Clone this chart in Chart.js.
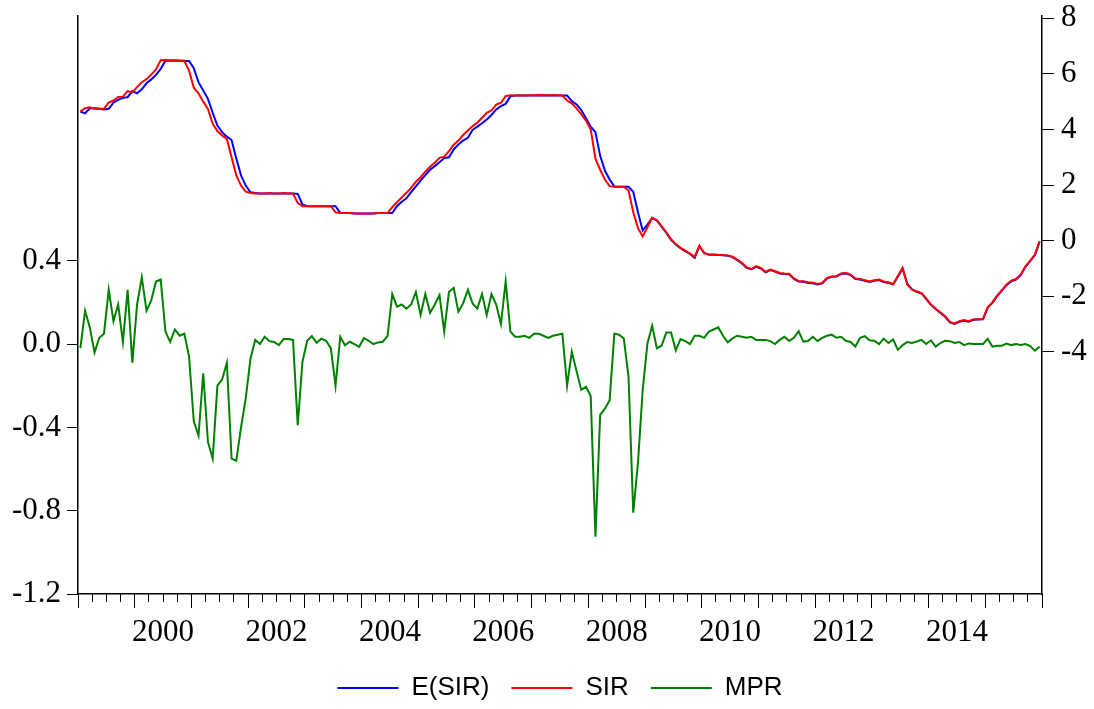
<!DOCTYPE html>
<html>
<head>
<meta charset="utf-8">
<script src="https://cdn.jsdelivr.net/npm/chart.js@4.4.1/dist/chart.umd.min.js"></script>
<style>
  html, body { margin: 0; padding: 0; background: #fff; }
  #chart { display: block; }
</style>
</head>
<body>
<canvas id="chart" width="1094" height="709"></canvas>
<script>
// monthly observations, 1999M01 .. 2015M12
const months = [];
for (let y = 1999; y <= 2015; y++) {
    for (let m = 1; m <= 12; m++) months.push(y + 'M' + String(m).padStart(2, '0'));
}

// expected short interest rate (right axis)
const esir = [
    4.64, 4.58, 4.76, 4.76, 4.74, 4.72, 4.74, 4.96, 5.06, 5.14, 5.16, 5.38,
    5.30, 5.44, 5.66, 5.80, 5.96, 6.18, 6.47, 6.47, 6.47, 6.47, 6.46, 6.46,
    6.20, 5.70, 5.40, 5.10, 4.60, 4.14, 3.90, 3.74, 3.62, 2.95, 2.35, 1.98,
    1.74, 1.71, 1.70, 1.70, 1.70, 1.70, 1.70, 1.70, 1.70, 1.70, 1.68, 1.30,
    1.24, 1.24, 1.24, 1.24, 1.24, 1.24, 1.24, 1.00, 0.99, 0.99, 0.98, 0.98,
    0.98, 0.98, 0.98, 0.99, 0.99, 0.99, 0.99, 1.24, 1.40, 1.52, 1.75, 1.95,
    2.16, 2.36, 2.55, 2.68, 2.82, 2.97, 3.00, 3.28, 3.46, 3.60, 3.70, 3.98,
    4.10, 4.22, 4.36, 4.52, 4.72, 4.84, 4.92, 5.19, 5.22, 5.22, 5.22, 5.22,
    5.22, 5.22, 5.22, 5.22, 5.22, 5.22, 5.22, 5.22, 5.02, 4.90, 4.70, 4.40,
    4.10, 3.90, 3.05, 2.52, 2.20, 1.95, 1.94, 1.94, 1.94, 1.76, 1.02, 0.36,
    0.58, 0.82, 0.72, 0.50, 0.28, 0.03, -0.14, -0.27, -0.38, -0.48, -0.62, -0.20,
    -0.44, -0.51, -0.51, -0.52, -0.53, -0.54, -0.59, -0.70, -0.82, -0.98, -1.03, -0.94,
    -1.00, -1.14, -1.06, -1.11, -1.18, -1.20, -1.21, -1.38, -1.47, -1.48, -1.52, -1.53,
    -1.58, -1.54, -1.36, -1.30, -1.29, -1.20, -1.18, -1.24, -1.38, -1.40, -1.44, -1.49,
    -1.44, -1.42, -1.49, -1.52, -1.58, -1.30, -1.00, -1.56, -1.75, -1.84, -1.90, -2.10,
    -2.31, -2.46, -2.60, -2.74, -2.94, -3.00, -2.92, -2.88, -2.92, -2.85, -2.84, -2.83,
    -2.42, -2.24, -2.00, -1.80, -1.60, -1.46, -1.40, -1.24, -0.94, -0.74, -0.52, -0.04
];

// short interest rate (right axis)
const sir = [
    4.64, 4.76, 4.80, 4.74, 4.74, 4.74, 4.97, 5.04, 5.17, 5.18, 5.38, 5.33,
    5.52, 5.70, 5.81, 5.97, 6.16, 6.49, 6.50, 6.49, 6.49, 6.48, 6.47, 6.12,
    5.50, 5.30, 5.00, 4.74, 4.20, 3.94, 3.78, 3.66, 3.00, 2.35, 1.98, 1.76,
    1.71, 1.70, 1.70, 1.70, 1.71, 1.70, 1.70, 1.71, 1.70, 1.70, 1.35, 1.24,
    1.24, 1.24, 1.25, 1.24, 1.24, 1.24, 1.02, 0.99, 0.99, 0.99, 0.98, 0.98,
    0.97, 0.98, 0.98, 0.99, 0.99, 0.99, 1.20, 1.38, 1.55, 1.72, 1.90, 2.12,
    2.28, 2.48, 2.66, 2.80, 2.98, 3.02, 3.22, 3.45, 3.60, 3.80, 3.96, 4.12,
    4.24, 4.42, 4.60, 4.68, 4.89, 4.96, 5.20, 5.23, 5.22, 5.23, 5.22, 5.23,
    5.23, 5.24, 5.23, 5.23, 5.24, 5.23, 5.22, 5.04, 4.94, 4.76, 4.55, 4.32,
    4.00, 2.95, 2.55, 2.20, 1.96, 1.94, 1.94, 1.94, 1.80, 1.02, 0.45, 0.15,
    0.48, 0.82, 0.74, 0.52, 0.30, 0.05, -0.12, -0.26, -0.36, -0.47, -0.58, -0.18,
    -0.45, -0.50, -0.50, -0.51, -0.52, -0.53, -0.58, -0.68, -0.80, -0.96, -1.02, -0.92,
    -0.98, -1.12, -1.04, -1.10, -1.16, -1.18, -1.19, -1.36, -1.45, -1.46, -1.50, -1.51,
    -1.56, -1.52, -1.34, -1.29, -1.28, -1.18, -1.16, -1.22, -1.36, -1.38, -1.42, -1.47,
    -1.42, -1.40, -1.47, -1.50, -1.56, -1.27, -0.98, -1.58, -1.76, -1.83, -1.89, -2.08,
    -2.30, -2.45, -2.58, -2.72, -2.92, -2.98, -2.90, -2.86, -2.90, -2.83, -2.83, -2.82,
    -2.40, -2.22, -1.98, -1.78, -1.58, -1.44, -1.38, -1.22, -0.92, -0.72, -0.50, -0.02
];

// MPR (left axis)
const mpr = [
    -0.02, 0.16, 0.08, -0.04, 0.03, 0.05, 0.26, 0.11, 0.19, 0.01, 0.26, -0.09,
    0.19, 0.32, 0.16, 0.21, 0.30, 0.31, 0.06, 0.01, 0.07, 0.04, 0.05, -0.06,
    -0.37, -0.44, -0.14, -0.47, -0.55, -0.20, -0.17, -0.09, -0.55, -0.56, -0.40, -0.26,
    -0.07, 0.02, 0.00, 0.035, 0.014, 0.01, -0.005, 0.024, 0.024, 0.02, -0.39, -0.085,
    0.016, 0.038, 0.006, 0.026, 0.016, -0.02, -0.20, 0.035, -0.006, 0.011, 0.00, -0.013,
    0.029, 0.016, 0.00, 0.008, 0.011, 0.038, 0.24, 0.18, 0.19, 0.17, 0.19, 0.25,
    0.14, 0.24, 0.15, 0.19, 0.235, 0.06, 0.25, 0.27, 0.155, 0.195, 0.26, 0.195,
    0.17, 0.24, 0.14, 0.24, 0.19, 0.096, 0.30, 0.06, 0.035, 0.035, 0.04, 0.03,
    0.05, 0.05, 0.04, 0.03, 0.04, 0.045, 0.05, -0.20, -0.037, -0.13, -0.22, -0.205,
    -0.25, -0.925, -0.34, -0.31, -0.27, 0.05, 0.045, 0.027, -0.157, -0.81, -0.57, -0.22,
    0.003, 0.088, -0.02, -0.008, 0.056, 0.056, -0.03, 0.024, 0.014, 0.00, 0.04, 0.04,
    0.03, 0.06, 0.07, 0.08, 0.04, 0.008, 0.027, 0.04, 0.035, 0.03, 0.035, 0.02,
    0.02, 0.02, 0.014, 0.00, 0.02, 0.035, 0.015, 0.03, 0.062, 0.012, 0.015, 0.035,
    0.015, 0.03, 0.04, 0.045, 0.03, 0.035, 0.016, 0.01, -0.012, 0.03, 0.038, 0.018,
    0.016, 0.00, 0.026, 0.005, 0.022, -0.028, -0.005, 0.01, 0.005, 0.012, 0.02, 0.00,
    0.018, -0.012, 0.005, 0.016, 0.014, 0.005, 0.01, -0.005, 0.003, 0.00, 0.00, 0.00,
    0.025, -0.012, -0.008, -0.008, 0.002, -0.005, 0.00, -0.005, 0.00, -0.01, -0.032, -0.012
];

const leftTicks = [-1.2, -0.8, -0.4, 0.0, 0.4];
const rightTicks = [-4, -2, 0, 2, 4, 6, 8];
const yearLabels = ['2000', '2002', '2004', '2006', '2008', '2010', '2012', '2014'];

// tick positions on the month index axis (bins are centred on the index)
const halfYearTicks = [];
for (let v = -0.5; v <= months.length - 0.5; v += 6) halfYearTicks.push(v);
const quarterTicks = [];
for (let v = -0.5; v <= months.length - 0.5; v += 3) quarterTicks.push(v);

const serif = { family: '"Liberation Serif", "Times New Roman", serif', size: 31 };

function pts(arr) {
    return arr.map((v, i) => ({ x: i, y: v }));
}

function yearOf(value) {
    return months[Math.round(value + 0.5)].slice(0, 4);
}

new Chart(document.getElementById('chart').getContext('2d'), {
    type: 'line',
    data: {
        datasets: [
            { label: 'E(SIR)', data: pts(esir), borderColor: '#0000ff', backgroundColor: '#0000ff',
              borderWidth: 2, pointRadius: 0, tension: 0, yAxisID: 'yR', xAxisID: 'x', order: 2 },
            { label: 'SIR', data: pts(sir), borderColor: '#ff0000', backgroundColor: '#ff0000',
              borderWidth: 2, pointRadius: 0, tension: 0, yAxisID: 'yR', xAxisID: 'x', order: 1 },
            { label: 'MPR', data: pts(mpr), borderColor: '#008000', backgroundColor: '#008000',
              borderWidth: 2, pointRadius: 0, tension: 0, yAxisID: 'yL', xAxisID: 'x', order: 0 }
        ]
    },
    options: {
        responsive: false,
        animation: false,
        devicePixelRatio: 1,
        layout: { padding: { top: 16, left: 0, right: 0, bottom: 0 } },
        plugins: {
            tooltip: { enabled: false },
            legend: {
                position: 'bottom',
                fullSize: false,
                maxHeight: 56,
                labels: {
                    usePointStyle: true,
                    pointStyle: 'line',
                    pointStyleWidth: 61,
                    padding: 22,
                    color: '#000',
                    font: { family: '"Liberation Sans", Arial, sans-serif', size: 26 },
                    sort: (a, b) => a.datasetIndex - b.datasetIndex
                }
            }
        },
        scales: {
            x: {
                type: 'linear', position: 'bottom', weight: 1,
                min: -0.5, max: months.length - 0.5,
                afterBuildTicks: s => { s.ticks = halfYearTicks.map(v => ({ value: v })); },
                afterFit: s => { s.height = 59; s.paddingLeft = 0; s.paddingRight = 0; },
                grid: {
                    drawOnChartArea: false, tickLength: 14, tickWidth: 1,
                    tickColor: ctx => (ctx.tick && Math.round(ctx.tick.value + 0.5) % 12 === 0) ? '#000' : 'rgba(0,0,0,0)'
                },
                border: { display: true, color: '#000', width: 1.5 },
                ticks: {
                    autoSkip: false, maxRotation: 0, minRotation: 0, padding: 6,
                    color: '#000', font: serif,
                    callback: value => {
                        if (Math.round(value + 0.5) % 12 !== 6) return '';
                        const y = yearOf(value);
                        return yearLabels.includes(y) ? y : '';
                    }
                }
            },
            xq: {
                type: 'linear', position: 'bottom', weight: 0,
                min: -0.5, max: months.length - 0.5,
                afterBuildTicks: s => { s.ticks = quarterTicks.map(v => ({ value: v })); },
                afterFit: s => { s.height = 0; s.paddingLeft = 0; s.paddingRight = 0; },
                grid: { drawOnChartArea: false, tickLength: 8, tickWidth: 1, tickColor: '#000' },
                border: { display: false },
                ticks: { display: false }
            },
            yL: {
                type: 'linear', position: 'left',
                min: -1.2, max: 1.575,
                afterBuildTicks: s => { s.ticks = leftTicks.map(v => ({ value: v })); },
                afterFit: s => { s.width = 78; s.paddingTop = 0; s.paddingBottom = 0; },
                grid: { drawOnChartArea: false, tickLength: 11, tickWidth: 1, tickColor: '#000' },
                border: { display: true, color: '#000', width: 1.5 },
                ticks: { padding: 6, color: '#000', font: serif, callback: v => v.toFixed(1) }
            },
            yR: {
                type: 'linear', position: 'right',
                min: -12.71, max: 8.08,
                afterBuildTicks: s => { s.ticks = rightTicks.map(v => ({ value: v })); },
                afterFit: s => { s.width = 52; s.paddingTop = 0; s.paddingBottom = 0; },
                grid: { drawOnChartArea: false, tickLength: 12, tickWidth: 1, tickColor: '#000' },
                border: { display: true, color: '#000', width: 1.5 },
                ticks: { padding: 7, color: '#000', font: serif, callback: v => String(v) }
            }
        }
    }
});
</script>
</body>
</html>
